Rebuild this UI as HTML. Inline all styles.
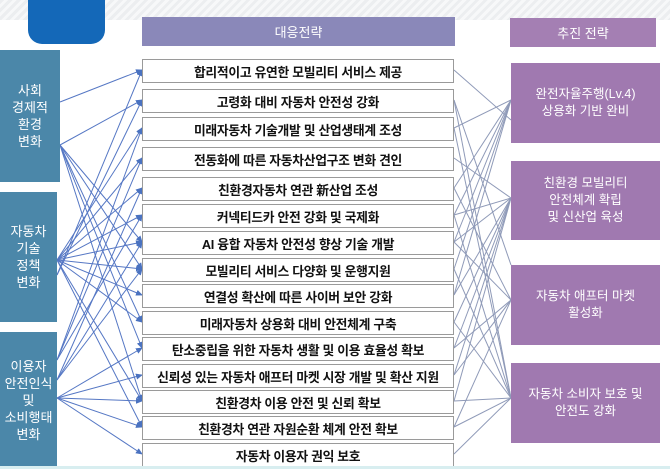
<!DOCTYPE html>
<html><head><meta charset="utf-8"><style>
body{margin:0;width:670px;height:469px;overflow:hidden;background:#fff;font-family:"Liberation Sans","Noto Sans CJK KR",sans-serif;position:relative}
.a{position:absolute;box-sizing:border-box;display:flex;align-items:center;justify-content:center;text-align:center}
.l{background:#4b87a9;color:#fff;font-size:13px;line-height:17px}
.m{left:142px;width:312px;height:24px;border:1px solid #9a9a9a;background:#fff;font-size:12.8px;color:#111;font-weight:bold;letter-spacing:-0.3px;white-space:nowrap}
.r{left:511px;width:149px;background:#a079b0;color:#fff;font-size:12.5px;line-height:17px}
svg{position:absolute;left:0;top:0}
</style></head><body>
<div style="position:absolute;left:0;top:0;width:670px;height:20px;background:repeating-linear-gradient(135deg,#eceef0 0 3px,#f7f8f9 3px 6px)"></div>
<div style="position:absolute;left:28px;top:-10px;width:77px;height:54px;background:#1468b8;border-radius:0 0 14px 14px"></div>
<div class="a" style="left:142px;top:17px;width:313px;height:29px;background:#8a88b9;color:#fff;font-size:13px">대응전략</div>
<div class="a" style="left:510px;top:18px;width:146px;height:29px;background:#a47fb3;color:#fff;font-size:13px">추진 전략</div>
<svg width="670" height="469">
<defs><marker id="ar" markerWidth="7" markerHeight="6" refX="6" refY="3" orient="auto"><path d="M0,0L7,3L0,6z" fill="#4a72c0"/></marker></defs>
<g stroke="#5577c4" stroke-width="1" fill="none" marker-end="url(#ar)">
<path d="M60,102L142,70"/><path d="M60,145L142,100"/><path d="M60,145L142,242"/><path d="M60,145L142,269"/><path d="M60,145L142,348"/><path d="M60,145L142,401"/><path d="M60,145L142,322"/>
<path d="M57,260L142,128"/><path d="M57,260L142,158"/><path d="M57,260L142,188"/><path d="M57,260L142,215"/><path d="M57,260L142,242"/><path d="M57,260L142,269"/><path d="M57,260L142,295"/><path d="M57,260L142,322"/><path d="M57,260L142,401"/><path d="M57,260L142,427"/><path d="M57,275L142,100"/><path d="M57,275L142,70"/>
<path d="M57,398L142,348"/><path d="M57,398L142,375"/><path d="M57,398L142,401"/><path d="M57,398L142,427"/><path d="M57,398L142,454"/><path d="M57,360L142,215"/><path d="M57,360L142,158"/><path d="M57,360L142,128"/><path d="M57,380L142,188"/><path d="M57,380L142,242"/><path d="M57,380L142,269"/>
</g>
<g stroke="#8f9ab8" stroke-width="1" fill="none">
<path d="M454,70L511,120"/><path d="M454,100L511,265"/><path d="M454,128L511,100"/><path d="M454,158L511,198"/><path d="M454,188L511,100"/><path d="M454,215L511,100"/><path d="M454,242L511,100"/><path d="M454,269L511,100"/><path d="M454,295L511,100"/><path d="M454,322L511,198"/><path d="M454,348L511,198"/><path d="M454,375L511,300"/><path d="M454,401L511,398"/><path d="M454,427L511,300"/><path d="M454,454L511,398"/>
<path d="M454,128L511,398"/><path d="M454,188L511,300"/><path d="M454,215L511,398"/><path d="M454,242L511,300"/><path d="M454,269L511,398"/><path d="M454,295L511,198"/><path d="M454,322L511,398"/><path d="M454,348L511,300"/><path d="M454,375L511,198"/><path d="M454,401L511,198"/><path d="M454,427L511,398"/><path d="M454,100L511,398"/><path d="M454,242L511,198"/><path d="M454,215L511,198"/>
</g></svg>
<div class="a l" style="left:0;top:50px;width:60px;height:132px">사회<br>경제적<br>환경<br>변화</div>
<div class="a l" style="left:0;top:192px;width:57px;height:130px">자동차<br>기술<br>정책<br>변화</div>
<div class="a l" style="left:0;top:332px;width:57px;height:137px">이용자<br>안전인식<br>및<br>소비행태<br>변화</div>
<div class="a m" style="top:59px">합리적이고 유연한 모빌리티 서비스 제공</div>
<div class="a m" style="top:89px">고령화 대비 자동차 안전성 강화</div>
<div class="a m" style="top:117px">미래자동차 기술개발 및 산업생태계 조성</div>
<div class="a m" style="top:147px">전동화에 따른 자동차산업구조 변화 견인</div>
<div class="a m" style="top:177px">친환경자동차 연관 新산업 조성</div>
<div class="a m" style="top:204px">커넥티드카 안전 강화 및 국제화</div>
<div class="a m" style="top:231px">AI 융합 자동차 안전성 향상 기술 개발</div>
<div class="a m" style="top:258px">모빌리티 서비스 다양화 및 운행지원</div>
<div class="a m" style="top:284px">연결성 확산에 따른 사이버 보안 강화</div>
<div class="a m" style="top:311px">미래자동차 상용화 대비 안전체계 구축</div>
<div class="a m" style="top:337px">탄소중립을 위한 자동차 생활 및 이용 효율성 확보</div>
<div class="a m" style="top:364px">신뢰성 있는 자동차 애프터 마켓 시장 개발 및 확산 지원</div>
<div class="a m" style="top:390px">친환경차 이용 안전 및 신뢰 확보</div>
<div class="a m" style="top:416px">친환경차 연관 자원순환 체계 안전 확보</div>
<div class="a m" style="top:443px">자동차 이용자 권익 보호</div>
<div class="a r" style="top:63px;height:80px">완전자율주행(Lv.4)<br>상용화 기반 완비</div>
<div class="a r" style="top:161px;height:79px">친환경 모빌리티<br>안전체계 확립<br>및 신산업 육성</div>
<div class="a r" style="top:265px;height:80px">자동차 애프터 마켓<br>활성화</div>
<div class="a r" style="top:363px;height:80px">자동차 소비자 보호 및<br>안전도 강화</div>
<div style="position:absolute;left:0;top:466px;width:670px;height:3px;background:#d8eef0"></div>
</body></html>
